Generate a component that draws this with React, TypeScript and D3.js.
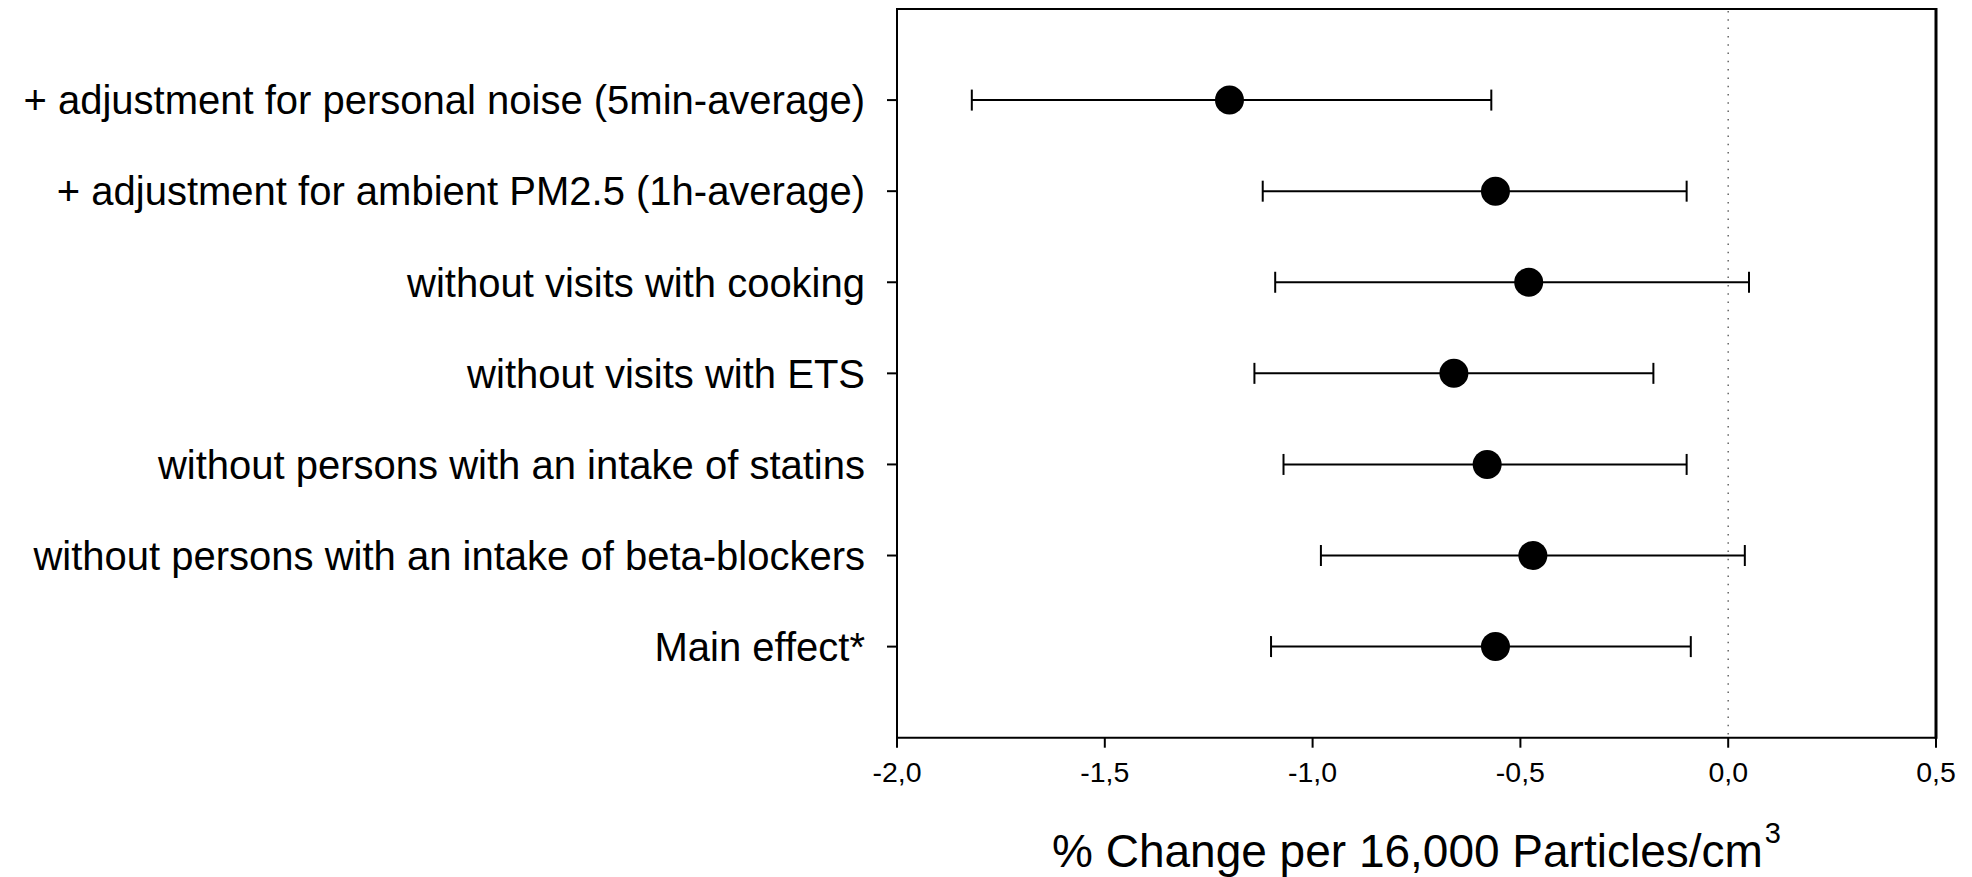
import React from "react";
import * as d3 from "d3";

// Sensitivity analyses, top row first
const categories = [
  "+ adjustment for personal noise (5min-average)",
  "+ adjustment for ambient PM2.5 (1h-average)",
  "without visits with cooking",
  "without visits with ETS",
  "without persons with an intake of statins",
  "without persons with an intake of beta-blockers",
  "Main effect*",
];
const estimates = [-1.2, -0.56, -0.48, -0.66, -0.58, -0.47, -0.56];
const lowerCI = [-1.82, -1.12, -1.09, -1.14, -1.07, -0.98, -1.1];
const upperCI = [-0.57, -0.1, 0.05, -0.18, -0.1, 0.04, -0.09];
const xTicks = [-2.0, -1.5, -1.0, -0.5, 0.0, 0.5];
const xTitle = "% Change per 16,000 Particles/cm";
const xTitleSup = "3";

const W = 1972;
const H = 877;
const plot = { left: 897, right: 1936, top: 9, bottom: 737.7 };
const FONT = "'Liberation Sans', Arial, Helvetica, sans-serif";

const fmt = d3
  .formatLocale({ decimal: ",", thousands: ".", grouping: [3], currency: ["", ""], minus: "-" })
  .format(".1f");

export default function App() {
  const x = d3.scaleLinear().domain([-2, 0.5]).range([plot.left, plot.right]);
  const y = d3.scaleLinear().domain([0, categories.length + 1]).range([plot.bottom, plot.top]);
  const rowY = (i: number) => y(categories.length - i);
  const capH = 10.5;
  const labelSize = 40;

  return (
    <svg
      width={W}
      height={H}
      style={{ position: "absolute", left: 0, top: 0, background: "#fff" }}
      fontFamily={FONT}
    >
      <rect x={0} y={0} width={W} height={H} fill="#fff" />

      {/* zero reference line */}
      <line
        x1={x(0)}
        x2={x(0)}
        y1={plot.top + 2}
        y2={plot.bottom - 2}
        stroke="#666"
        strokeWidth={1.5}
        strokeDasharray="1.5,6.8"
      />

      {/* frame */}
      <line x1={plot.left} x2={plot.right} y1={plot.top} y2={plot.top} stroke="#000" strokeWidth={2} />
      <line x1={plot.left} x2={plot.right} y1={plot.bottom} y2={plot.bottom} stroke="#000" strokeWidth={2} />
      <line x1={plot.left} x2={plot.left} y1={plot.top - 1} y2={plot.bottom + 1} stroke="#000" strokeWidth={2} />
      <line x1={plot.right} x2={plot.right} y1={plot.top - 1} y2={plot.bottom + 1} stroke="#000" strokeWidth={3} />

      {/* x axis ticks and labels */}
      {xTicks.map((t) => (
        <g key={t}>
          <line x1={x(t)} x2={x(t)} y1={plot.bottom} y2={plot.bottom + 10} stroke="#000" strokeWidth={2} />
          <text x={x(t)} y={781.5} textAnchor="middle" fontSize={28.5} fill="#000">
            {fmt(t)}
          </text>
        </g>
      ))}

      {/* x axis title */}
      <text x={(plot.left + plot.right) / 2} y={866.5} textAnchor="middle" fontSize={46} fill="#000">
        <tspan>{xTitle}</tspan>
        <tspan dx={2} dy={-24} fontSize={29}>
          {xTitleSup}
        </tspan>
      </text>

      {/* y categories */}
      {categories.map((c, i) => (
        <g key={c}>
          <line x1={plot.left - 10} x2={plot.left} y1={rowY(i)} y2={rowY(i)} stroke="#000" strokeWidth={2} />
          <text x={865} y={rowY(i) + labelSize * 0.358} textAnchor="end" fontSize={labelSize} fill="#000">
            {c}
          </text>
        </g>
      ))}

      {/* estimates with confidence intervals */}
      {categories.map((c, i) => {
        const cy = rowY(i);
        return (
          <g key={`m-${c}`}>
            <line x1={x(lowerCI[i])} x2={x(upperCI[i])} y1={cy} y2={cy} stroke="#000" strokeWidth={2} />
            <line x1={x(lowerCI[i])} x2={x(lowerCI[i])} y1={cy - capH} y2={cy + capH} stroke="#000" strokeWidth={2} />
            <line x1={x(upperCI[i])} x2={x(upperCI[i])} y1={cy - capH} y2={cy + capH} stroke="#000" strokeWidth={2} />
            <circle cx={x(estimates[i])} cy={cy} r={14.5} fill="#000" />
          </g>
        );
      })}
    </svg>
  );
}
